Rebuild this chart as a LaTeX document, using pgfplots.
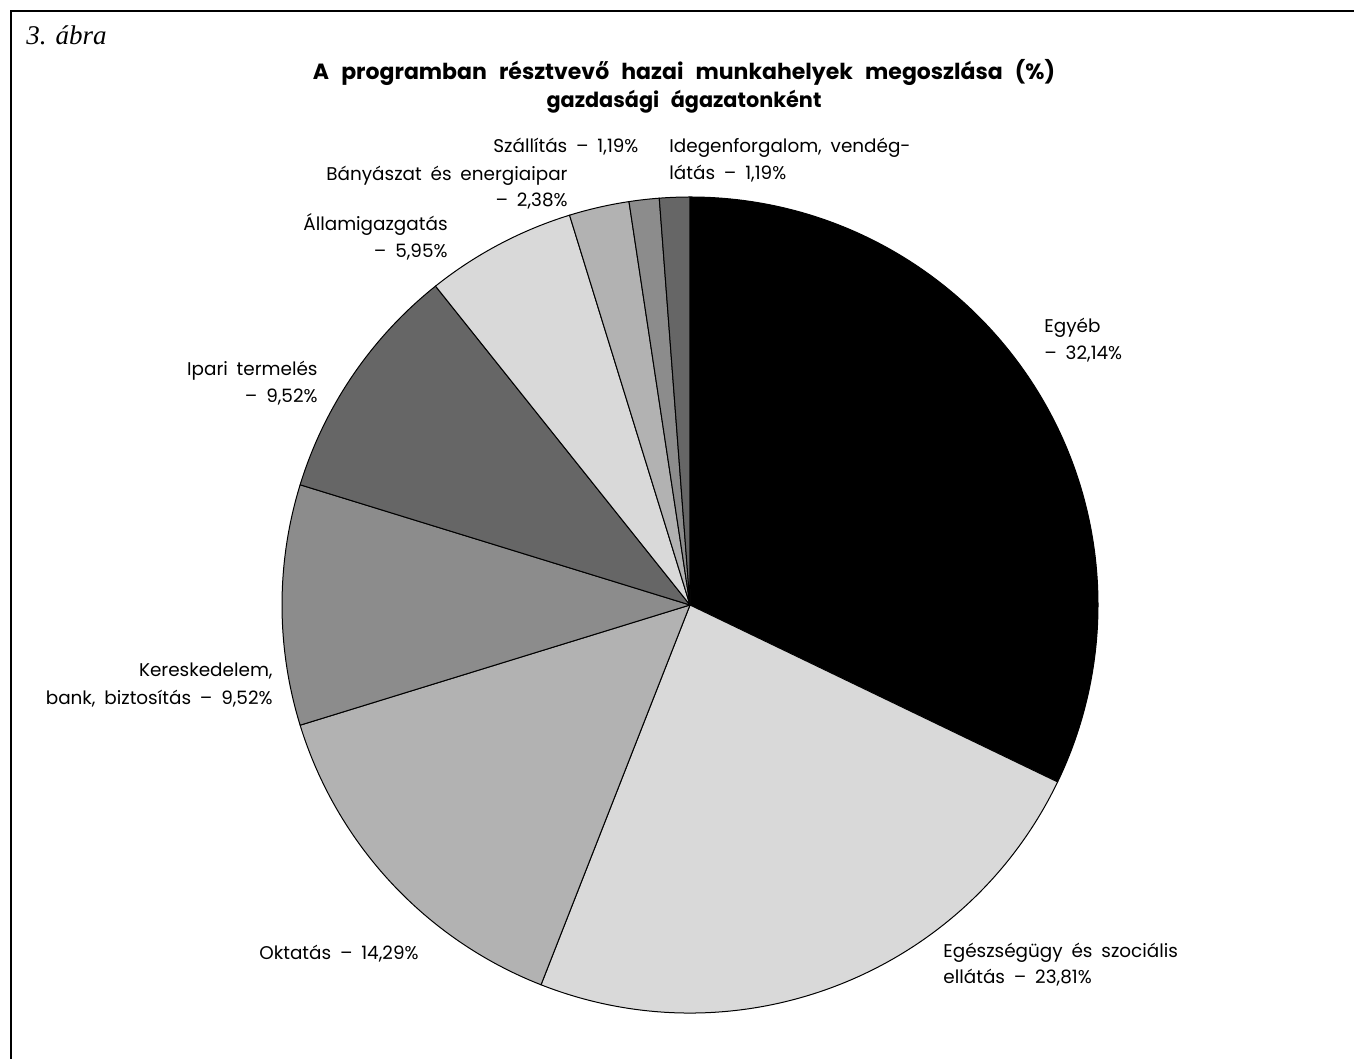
\documentclass[border=0pt]{standalone}
\usepackage{pgfplots}
\pgfplotsset{compat=1.18}
\usepackage{pgfplotstable}
\usepackage{fontspec}
\setmainfont{Poppins}[WordSpace=1.8, Numbers=Monospaced]
\newfontfamily\titlefont{Poppins}[WordSpace=2.6]
\newfontfamily\timesfont{Liberation Serif}

\definecolor{sA}{HTML}{000000}
\definecolor{sB}{HTML}{D9D9D9}
\definecolor{sC}{HTML}{B2B2B2}
\definecolor{sD}{HTML}{8C8C8C}
\definecolor{sE}{HTML}{666666}

% share (%) of each sector, clockwise from 12 o'clock
\pgfplotstableread{
sector value color
Egyeb 32.14 sA
Egeszsegugy 23.81 sB
Oktatas 14.29 sC
Kereskedelem 9.52 sD
Ipari 9.52 sE
Allamigazgatas 5.95 sB
Banyaszat 2.38 sC
Szallitas 1.19 sD
Idegenforgalom 1.19 sE
}\piedata

\begin{document}
\begin{tikzpicture}[lbl/.style={font=\fontsize{9.2}{13.5}\selectfont, inner sep=0pt}]
\useasboundingbox (0,0) rectangle (677pt,529.5pt);
\begin{axis}[
  x=0.5pt, y=0.5pt,
  xmin=0, xmax=1354, ymin=0, ymax=1059,
  hide axis, clip=false,
]
\pgfplotsextra{
  \def\startangle{90}
  \pgfplotstablegetrowsof{\piedata}
  \pgfmathtruncatemacro\lastrow{\pgfplotsretval-1}
  \pgfplotsforeachungrouped \i in {0,...,\lastrow}{
    \pgfplotstablegetelem{\i}{value}\of\piedata \let\v\pgfplotsretval
    \pgfplotstablegetelem{\i}{color}\of\piedata \let\c\pgfplotsretval
    \pgfmathsetmacro\endangle{\startangle-3.6*\v}
    \filldraw[fill=\c, draw=black, line width=0.5pt, line join=round]
      (axis cs:690,454) -- ++(\startangle:204pt)
      arc[start angle=\startangle, end angle=\endangle, radius=204pt] -- cycle;
    \global\let\startangle\endangle
  }
}
% frame
\draw[line width=1pt] (axis cs:11,0) -- (axis cs:11,1048) -- (axis cs:1354,1048);
% figure number and title
\node[anchor=base west, inner sep=0pt, font=\timesfont\itshape\fontsize{13.5}{16}\selectfont] at (axis cs:26,1014) {3. ábra};
\node[anchor=base, inner sep=0pt, font=\titlefont\bfseries\fontsize{11}{14}\selectfont] at (axis cs:684,979) {A programban résztvevő hazai munkahelyek megoszlása (\%)};
\node[anchor=base, inner sep=0pt, font=\titlefont\bfseries\fontsize{10.4}{14}\selectfont] at (axis cs:684,951) {gazdasági ágazatonként};
% slice labels
\node[lbl, anchor=base west] at (axis cs:1044,726) {Egyéb};
\node[lbl, anchor=base west] at (axis cs:1044,699) {– 32,14\%};
\node[lbl, anchor=base west] at (axis cs:943,101) {Egészségügy és szociális};
\node[lbl, anchor=base west] at (axis cs:943,75) {ellátás – 23,81\%};
\node[lbl, anchor=base west] at (axis cs:259,99) {Oktatás – 14,29\%};
\node[lbl, anchor=base east] at (axis cs:273,382) {Kereskedelem,};
\node[lbl, anchor=base east] at (axis cs:273,354) {bank, biztosítás – 9,52\%};
\node[lbl, anchor=base east] at (axis cs:318,683) {Ipari termelés};
\node[lbl, anchor=base east] at (axis cs:318,656) {– 9,52\%};
\node[lbl, anchor=base east] at (axis cs:448,828) {Államigazgatás};
\node[lbl, anchor=base east] at (axis cs:448,801) {– 5,95\%};
\node[lbl, anchor=base east] at (axis cs:568,878) {Bányászat és energiaipar};
\node[lbl, anchor=base east] at (axis cs:568,852) {– 2,38\%};
\node[lbl, anchor=base west] at (axis cs:493,906) {Szállítás – 1,19\%};
\node[lbl, anchor=base west] at (axis cs:669,906) {Idegenforgalom, vendég-};
\node[lbl, anchor=base west] at (axis cs:669,879) {látás – 1,19\%};
\end{axis}
\end{tikzpicture}
\end{document}
